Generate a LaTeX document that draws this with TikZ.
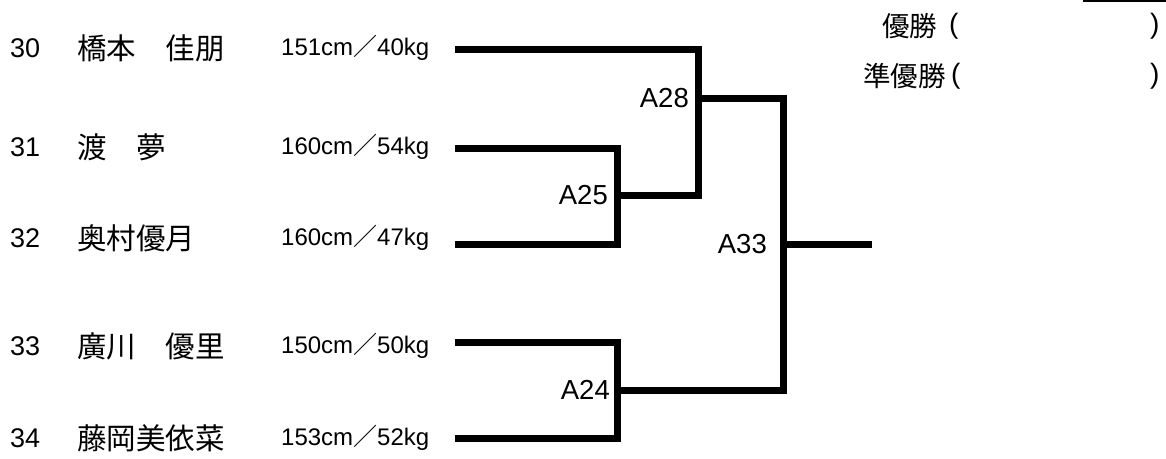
\documentclass[tikz,border=0pt]{standalone}
\usepackage{fontspec}
\setmainfont{Liberation Sans}
\newfontfamily\cjk{Noto Sans CJK JP}
\begin{document}
\begin{tikzpicture}[x=1pt,y=-1pt,
  br/.style={line width=7pt, line cap=butt, line join=miter},
  num/.style={anchor=west, inner sep=0pt, font=\fontsize{27}{30}\selectfont},
  nm/.style={anchor=west, inner sep=0pt, font=\cjk\fontsize{29.5}{32}\selectfont},
  wt/.style={anchor=west, inner sep=0pt, font=\fontsize{24}{26}\selectfont},
  lab/.style={anchor=east, inner sep=0pt, font=\fontsize{27.5}{30}\selectfont},
  ttl/.style={anchor=west, inner sep=0pt, font=\cjk\fontsize{27.5}{30}\selectfont},
  par/.style={anchor=west, inner sep=0pt, font=\fontsize{28}{30}\selectfont}]
\useasboundingbox (0,0) rectangle (1166,458);

% players
\node[num] (n30) at (10,48) {30};
\node[nm]  (m30) at (77,48) {橋本　佳朋};
\node[wt]  (w30) at (281,48) {151cm{\cjk ／}40kg};
\node[num] (n31) at (10,147) {31};
\node[nm]  (m31) at (77,147) {渡　夢};
\node[wt]  (w31) at (281,147) {160cm{\cjk ／}54kg};
\node[num] (n32) at (10,238) {32};
\node[nm]  (m32) at (77,238) {奥村優月};
\node[wt]  (w32) at (281,238) {160cm{\cjk ／}47kg};
\node[num] (n33) at (10,346) {33};
\node[nm]  (m33) at (77,346) {廣川　優里};
\node[wt]  (w33) at (281,346) {150cm{\cjk ／}50kg};
\node[num] (n34) at (10,438) {34};
\node[nm]  (m34) at (77,438) {藤岡美依菜};
\node[wt]  (w34) at (281,438) {153cm{\cjk ／}52kg};

% line starts
\coordinate (s30) at (455,49);
\coordinate (s31) at (455,148);
\coordinate (s32) at (455,244);
\coordinate (s33) at (455,342);
\coordinate (s34) at (455,438);

% match points
\coordinate (a25) at (617,195);
\coordinate (a24) at (617,390);
\coordinate (a28) at (698,98);
\coordinate (a33) at (783,244);
\coordinate (fin) at (872,244);

\draw[br] (s31) -| (a25) |- (s32);
\draw[br] (s33) -| (a24) |- (s34);
\draw[br] (s30) -| (a28) |- (a25);
\draw[br] (a28) -| (a33) |- (a24);
\draw[br] (a33) -- (fin);

\node[lab] (l25) at ([xshift=-9pt]a25) {A25};
\node[lab] (l24) at ([xshift=-7pt]a24) {A24};
\node[lab] (l28) at ([xshift=-9pt]a28) {A28};
\node[lab] (l33) at ([xshift=-16pt]a33) {A33};

% results
\draw[line width=2.5pt] (1083,1.2) -- (1166,1.2);
\node[ttl] (t1) at (882,26) {優勝};
\node[par] (p1) at (949,26) {(};
\node[par] (q1) at (1150,26) {)};
\node[ttl] (t2) at (863,76) {準優勝};
\node[par] (p2) at (951,76) {(};
\node[par] (q2) at (1150,76) {)};
\end{tikzpicture}
\end{document}
